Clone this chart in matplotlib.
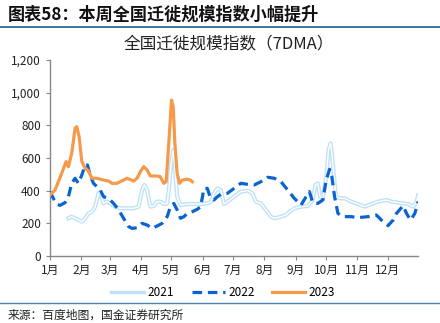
import matplotlib
matplotlib.use("Agg")
import matplotlib.pyplot as plt
import matplotlib.patheffects as pe
from matplotlib.lines import Line2D

plt.rcParams['font.family'] = ['Noto Sans CJK SC', 'DejaVu Sans']

month_labels = ['1月', '2月', '3月', '4月', '5月', '6月', '7月', '8月', '9月', '10月', '11月', '12月']
month_days = [1, 32, 60, 91, 121, 152, 182, 213, 244, 274, 305, 335]

days_2021 = [19.2, 22.5, 25.8, 32.5, 35.8, 39.1, 42.4, 45.7, 49, 50.7, 54, 57.3, 60.6, 65.6, 70.5, 77.2,
             83.8, 88.7, 92.1, 94.4, 97, 100.3, 103.6, 107, 110.3, 113.6, 116.9, 118.5, 120.9, 122.9,
             124.5, 126.8, 130.1, 136.8, 143.4, 150, 156.6, 160.6, 163.2, 166.6, 169.9, 173.2, 176.5,
             183.1, 189.7, 196.4, 201.3, 204.6, 209.6, 214.6, 219.5, 222.9, 229.5, 234.4, 237.8, 242.7,
             249.3, 256, 260.9, 263.6, 265.9, 268.2, 270.9, 274.2, 276.5, 278.5, 280.2, 282.5, 284.1,
             287.4, 292.4, 299, 305.6, 312.2, 318.9, 325.5, 333.8, 338.7, 345.4, 355.3, 360.3, 363.6, 365]
vals_2021 = [231, 241, 231, 210, 231, 261, 271, 302, 384, 394, 322, 333, 322, 302, 292, 292,
             292, 302, 404, 435, 404, 302, 306, 333, 333, 318, 322, 404, 567, 649,
             547, 363, 312, 318, 318, 318, 322, 333, 384, 414, 404, 318, 333,
             363, 394, 400, 384, 333, 322, 282, 241, 231, 241, 251, 271, 292,
             302, 306, 343, 435, 445, 363, 353, 486, 649, 690, 608, 445, 363,
             353, 353, 333, 318, 302, 318, 333, 343, 333, 327, 318, 302, 333, 370]

days_2022 = [1, 4.3, 7.6, 10.9, 15.9, 19.2, 22.5, 25.8, 29.1, 32.5, 35.8, 38.1, 40.7, 44, 47.4, 50.7,
             54, 59, 63.9, 68.9, 73.8, 78.8, 82.1, 87.1, 92.1, 97, 102, 107, 111.9, 116.9, 120.2,
             123.5, 126.8, 130.1, 133.5, 136.8, 141.7, 146.7, 150, 153.3, 156.6, 159.9, 163.2, 166.6,
             169.9, 176.5, 183.1, 189.7, 196.4, 203, 209.6, 216.2, 222.9, 229.5, 236.1, 242.7, 249.3,
             254.3, 257.6, 260.9, 265.9, 270.9, 274.2, 277.5, 279.8, 282.5, 285.8, 290.7, 299, 305.6,
             315.6, 323.8, 328.8, 335.4, 340.4, 343.7, 350.3, 353.6, 357.6, 361.9, 365]
vals_2022 = [394, 353, 318, 310, 327, 363, 445, 476, 445, 496, 557, 557, 496, 445, 425, 404,
             363, 353, 322, 282, 231, 180, 169, 173, 200, 190, 169, 184, 200, 241, 302,
             322, 282, 231, 241, 261, 271, 286, 302, 414, 414, 353, 343, 363,
             378, 384, 414, 445, 439, 435, 455, 482, 476, 455, 404, 353, 312,
             363, 394, 327, 322, 343, 465, 531, 486, 363, 261, 241, 241, 235,
             241, 251, 220, 186, 220, 261, 308, 261, 220, 261, 333]

days_2023 = [1, 6, 12.6, 16.9, 19.2, 22.5, 25.8, 27.5, 29.8, 32.5, 35.8, 39.1, 42.4, 47.4, 54, 59,
             62.3, 67.2, 73.8, 77.2, 83.8, 87.1, 90.4, 93.7, 97, 100.3, 107, 110, 113.6, 115.9,
             118.5, 121.2, 122.9, 124.5, 126.8, 129.1, 131.8, 136.8, 140, 141.7]
vals_2023 = [374, 404, 506, 578, 547, 629, 782, 792, 731, 578, 537, 522, 476, 476, 465, 459,
             445, 445, 465, 476, 459, 476, 516, 547, 527, 490, 490, 486, 445, 455,
             690, 955, 914, 690, 506, 445, 465, 470, 465, 455]

fig = plt.figure(figsize=(4.4, 3.23), dpi=100)

# header
fig.text(0.018, 0.955, '图表58：本周全国迁徙规模指数小幅提升', fontsize=12.3, fontweight='bold',
         fontstyle='italic', color='#111111', va='center', ha='left')
fig.add_artist(Line2D([0.0, 1.0], [0.917, 0.917], color='#1f5b8c', linewidth=1.2))
fig.text(0.519, 0.862, '全国迁徙规模指数（7DMA）', fontsize=12, color='#222222', va='center', ha='center')

ax = fig.add_axes([0.1136, 0.2074, 0.8364, 0.6068])

c21_out = '#bfe2f6'
c22 = '#0a64d0'
c23 = '#f59a4a'

ax.plot(days_2021, vals_2021, color='white', linewidth=1.0, solid_joinstyle='round',
        path_effects=[pe.Stroke(linewidth=3.0, foreground=c21_out), pe.Normal()], zorder=2)
ax.plot(days_2022, vals_2022, color=c22, linewidth=2.3, linestyle=(0, (3.0, 1.8)), zorder=3)
ax.plot(days_2023, vals_2023, color=c23, linewidth=2.3, zorder=4, solid_joinstyle='round')

ax.set_xlim(1, 365)
ax.set_ylim(0, 1200)
ax.set_yticks(range(0, 1201, 200))
ax.set_yticklabels(['0', '200', '400', '600', '800', '1,000', '1,200'])
ax.set_xticks(month_days)
ax.set_xticklabels(month_labels)

for s in ['top', 'right']:
    ax.spines[s].set_visible(False)
for s in ['left', 'bottom']:
    ax.spines[s].set_color('#888888')
    ax.spines[s].set_linewidth(1.0)
ax.tick_params(axis='both', colors='#888888', labelcolor='#222222', labelsize=8.5, length=3, width=0.8)
ax.tick_params(axis='x', pad=3)

handles = [Line2D([0], [0], color=c21_out, linewidth=2.5),
           Line2D([0], [0], color=c22, linewidth=2.3, linestyle=(0, (3.0, 1.8))),
           Line2D([0], [0], color=c23, linewidth=2.3)]
fig.legend(handles, ['2021', '2022', '2023'], loc='center', bbox_to_anchor=(0.507, 0.095),
           ncol=3, frameon=False, fontsize=8.5, handlelength=2.8, columnspacing=1.45, handletextpad=0.3)

fig.add_artist(Line2D([0.0, 1.0], [0.062, 0.062], color='#4a86b0', linewidth=1.0))
fig.text(0.018, 0.025, '来源：百度地图，国金证券研究所', fontsize=8.5, color='#222222', va='center', ha='left')

fig.savefig('out.png', dpi=100)
